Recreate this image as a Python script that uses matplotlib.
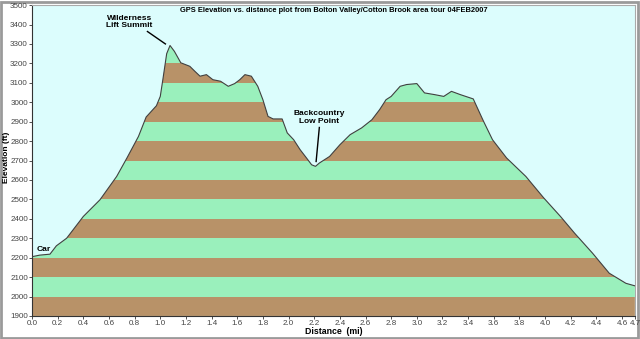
import matplotlib
matplotlib.use("Agg")
import matplotlib.pyplot as plt
import numpy as np
from matplotlib.patches import Rectangle

plt.rcParams['font.family'] = ['Liberation Sans', 'DejaVu Sans']

dist = [0.00, 0.06, 0.14, 0.19, 0.27, 0.32, 0.40, 0.53, 0.66, 0.74, 0.83, 0.89, 0.97, 1.00, 1.02, 1.05, 1.076,
        1.11, 1.16, 1.23, 1.27, 1.31, 1.36, 1.41, 1.47, 1.53, 1.58, 1.62, 1.66, 1.71, 1.76, 1.80, 1.84, 1.88,
        1.95, 1.99, 2.04, 2.09, 2.14, 2.18, 2.21, 2.24, 2.32, 2.40, 2.48, 2.57, 2.65, 2.71, 2.76, 2.80, 2.87,
        2.92, 3.00, 3.06, 3.14, 3.21, 3.27, 3.34, 3.44, 3.52, 3.59, 3.70, 3.85, 3.99, 4.12, 4.23, 4.37, 4.50,
        4.63, 4.70]
elev = [2205, 2213, 2218, 2261, 2300, 2343, 2412, 2498, 2618, 2713, 2824, 2924, 2982, 3030, 3116, 3250, 3292,
        3262, 3203, 3185, 3159, 3134, 3142, 3116, 3108, 3082, 3096, 3116, 3142, 3134, 3082, 3013, 2927, 2914,
        2914, 2842, 2807, 2756, 2713, 2678, 2670, 2687, 2721, 2781, 2833, 2868, 2910, 2962, 3013, 3030, 3082,
        3091, 3096, 3048, 3039, 3030, 3056, 3039, 3017, 2902, 2807, 2713, 2618, 2507, 2412, 2326, 2223, 2120,
        2068, 2055]

xticks = [0.0, 0.2, 0.4, 0.6, 0.8, 1.0, 1.2, 1.4, 1.6, 1.8, 2.0, 2.2, 2.4, 2.6, 2.8, 3.0, 3.2, 3.4, 3.6,
          3.8, 4.0, 4.2, 4.4, 4.6, 4.7]
yticks = list(range(1900, 3501, 100))
title = "GPS Elevation vs. distance plot from Bolton Valley/Cotton Brook area tour 04FEB2007"

green = '#9af0bc'
brown = '#b89268'
bg = '#dcfdfd'

fig = plt.figure(figsize=(6.4, 3.39), dpi=100)
fig.patch.set_facecolor('white')
fig.add_artist(Rectangle((0.002, 0.003), 0.995, 0.992, transform=fig.transFigure,
                         fill=False, edgecolor='#9a9a9a', linewidth=2.0, zorder=-5))
ax = fig.add_axes([0.05, 0.068, 0.942, 0.917])
ax.set_facecolor(bg)
ax.set_xlim(0, 4.7)
ax.set_ylim(1900, 3500)

poly = ax.fill_between(dist, 1900, elev, facecolor='none', edgecolor='none')
for i, lo in enumerate(range(1900, 3500, 100)):
    col = brown if i % 2 == 0 else green
    r = ax.axhspan(lo, lo + 100, color=col, linewidth=0, zorder=1)
    r.set_clip_path(poly.get_paths()[0], ax.transData)
ax.plot(dist, elev, color='#404040', linewidth=0.8, zorder=3)

ax.set_xticks(xticks)
ax.set_xticklabels([f"{t:.1f}" for t in xticks])
ax.set_yticks(yticks)
ax.set_yticklabels([str(t) for t in yticks])
ax.tick_params(axis='both', labelsize=5.8, length=2, width=0.6, colors='#333333', pad=1)
ax.tick_params(axis='both', labelcolor='#444444')
for s in ['left', 'bottom']:
    ax.spines[s].set_color('#333333')
    ax.spines[s].set_linewidth(0.8)
for s in ['top', 'right']:
    ax.spines[s].set_color('#aaaaaa')
    ax.spines[s].set_linewidth(0.8)

ax.set_xlabel("Distance  (mi)", fontsize=6.3, fontweight='bold')
ax.set_ylabel("Elevation (ft)", fontsize=6.0, fontweight='bold')
ax.xaxis.set_label_coords(0.5, -0.036)
ax.yaxis.set_label_coords(-0.036, 0.51)

ax.text(2.354, 3472, title, fontsize=5.4, fontweight='bold', ha='center', va='center', zorder=5)
ax.text(0.76, 3413, "Wilderness\nLift Summit", fontsize=6, fontweight='bold', ha='center', va='center',
        linespacing=1.15, zorder=5)
ax.plot([0.90, 1.04], [3364, 3300], color='black', linewidth=1.0, zorder=5)
ax.text(2.24, 2920, "Backcountry\nLow Point", fontsize=6, fontweight='bold', ha='center', va='center',
        linespacing=1.15, zorder=5)
ax.plot([2.24, 2.215], [2870, 2695], color='black', linewidth=1.0, zorder=5)
ax.text(0.035, 2240, "Car", fontsize=6, fontweight='bold', ha='left', va='center', zorder=5)

fig.savefig("out.png", dpi=100)
